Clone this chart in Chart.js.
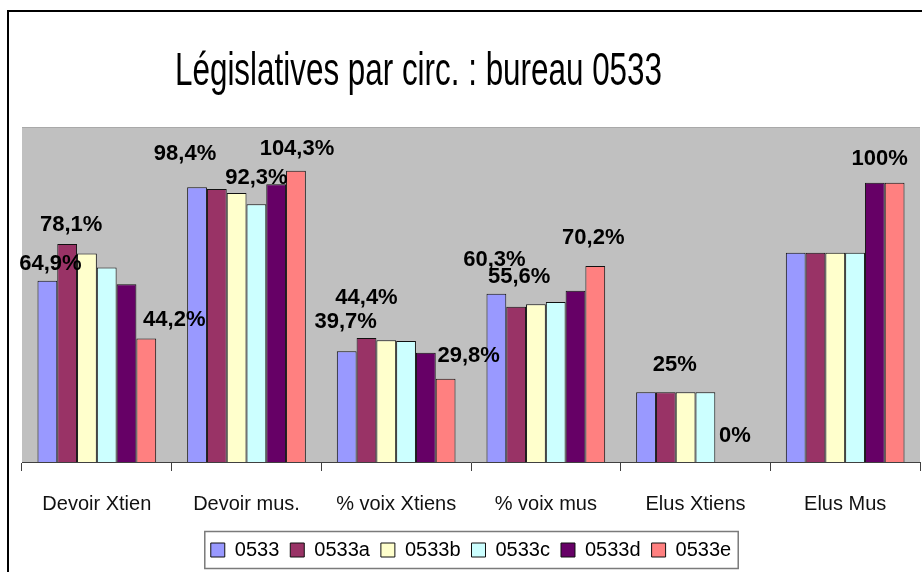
<!DOCTYPE html>
<html>
<head>
<meta charset="utf-8">
<script src="https://cdn.jsdelivr.net/npm/chart.js@4.4.1/dist/chart.umd.min.js"></script>
<style>
  html, body { margin: 0; padding: 0; background: #ffffff; }
  #wrap { width: 922px; height: 572px; position: relative; }
</style>
</head>
<body>
<div id="wrap"><canvas id="c" width="922" height="572"></canvas></div>
<script>
// ---- data ----
const titleText = 'Législatives par circ. : bureau 0533';
const categories = ['Devoir Xtien', 'Devoir mus.', '% voix Xtiens', '% voix mus', 'Elus Xtiens', 'Elus Mus'];
const seriesNames = ['0533', '0533a', '0533b', '0533c', '0533d', '0533e'];
const s0533  = [64.9, 98.4, 39.7, 60.3, 25, 75];
const s0533a = [78.1, 97.8, 44.4, 55.6, 25, 75];
const s0533b = [74.7, 96.4, 43.6, 56.5, 25, 75];
const s0533c = [69.7, 92.3, 43.3, 57.3, 25, 75];
const s0533d = [63.7, 99.5, 39.1, 61.3, 0, 100];
const s0533e = [44.2, 104.3, 29.8, 70.2, 0, 100];
const yMin = 0, yMax = 120;

// which bars carry a value label (series index, category index) + label nudges
const labelled = [
  [0,0],[1,0],[5,0],
  [0,1],[3,1],[5,1],
  [0,2],[1,2],[5,2],
  [0,3],[1,3],[5,3],
  [1,4],[5,4],
  [5,5]
];
const labelNudge = [
  [3,17],[4,19],[28,19],
  [-12,33],[0,26],[1,22],
  [-1,29],[0,40],[23,23],
  [-2,34],[3,30],[-2,28],
  [9,27],[-10,26],
  [-15,24]
];

// ---- styles ----
const colors = ['#9999FF', '#993366', '#FFFFCC', '#CCFFFF', '#660066', '#FF8080'];
const FONT = "'Liberation Sans', Arial, Helvetica, sans-serif";
const seriesValues = [s0533, s0533a, s0533b, s0533c, s0533d, s0533e];

function fmt(v) {
  return String(v).replace('.', ',') + '%';
}

const framePlugin = {
  id: 'frame',
  beforeDraw(chart) {
    const ctx = chart.ctx, a = chart.chartArea;
    ctx.save();
    ctx.fillStyle = '#ffffff';
    ctx.fillRect(0, 0, chart.width, chart.height);
    // plot background
    ctx.fillStyle = '#C0C0C0';
    ctx.fillRect(a.left, a.top, a.right - a.left, a.bottom - a.top);
    ctx.strokeStyle = '#a9a9a9';
    ctx.lineWidth = 1;
    ctx.beginPath();
    ctx.moveTo(a.left, a.top + 0.5);
    ctx.lineTo(a.right, a.top + 0.5);
    ctx.stroke();
    // outer black frame (left and top visible)
    ctx.strokeStyle = '#000000';
    ctx.lineWidth = 2;
    ctx.beginPath();
    ctx.moveTo(8, chart.height);
    ctx.lineTo(8, 11);
    ctx.lineTo(chart.width, 11);
    ctx.stroke();
    // title (condensed)
    ctx.fillStyle = '#000000';
    ctx.font = '46px ' + FONT;
    ctx.textBaseline = 'alphabetic';
    ctx.textAlign = 'left';
    const w = ctx.measureText(titleText).width;
    const targetW = 487;
    const sx = targetW / w;
    ctx.translate(418.5 - targetW / 2, 85);
    ctx.scale(sx, 1);
    ctx.fillText(titleText, 0, 0);
    ctx.restore();
  },
  afterDraw(chart) {
    // legend border
    const lg = chart.legend;
    if (!lg || !lg.legendHitBoxes || !lg.legendHitBoxes.length) return;
    const hb = lg.legendHitBoxes;
    const first = hb[0], last = hb[hb.length - 1];
    const ctx = chart.ctx;
    ctx.save();
    ctx.strokeStyle = '#7a7a7a';
    ctx.lineWidth = 1.5;
    const x0 = first.left - 6, x1 = last.left + last.width + 7;
    const y0 = lg.top + 2.5, y1 = lg.top + 39.5;
    ctx.strokeRect(x0, y0, x1 - x0, y1 - y0);
    ctx.restore();
  }
};

const labelPlugin = {
  id: 'valueLabels',
  afterDatasetsDraw(chart) {
    const ctx = chart.ctx;
    ctx.save();
    ctx.fillStyle = '#000000';
    ctx.font = 'bold 22px ' + FONT;
    ctx.textAlign = 'center';
    ctx.textBaseline = 'middle';
    labelled.forEach(([ds, cat], i) => {
      const el = chart.getDatasetMeta(ds).data[cat];
      const v = seriesValues[ds][cat];
      const [dx, dy] = labelNudge[i];
      ctx.fillText(fmt(v), el.x + dx, el.y - dy);
    });
    ctx.restore();
  }
};

new Chart(document.getElementById('c'), {
  type: 'bar',
  data: {
    labels: categories,
    datasets: seriesNames.map((name, i) => ({
      label: name,
      data: seriesValues[i],
      backgroundColor: colors[i],
      borderColor: '#111111',
      borderWidth: 1,
      borderSkipped: 'bottom',
      categoryPercentage: 0.793,
      barPercentage: 1.0
    }))
  },
  options: {
    responsive: false,
    animation: false,
    devicePixelRatio: 1,
    layout: { padding: { left: 22, right: 2, top: 127, bottom: 2 } },
    plugins: {
      title: { display: false },
      tooltip: { enabled: false },
      legend: {
        display: true,
        position: 'bottom',
        labels: {
          color: '#000000',
          font: { family: FONT, size: 20 },
          boxWidth: 14,
          boxHeight: 14,
          padding: 11
        }
      }
    },
    scales: {
      x: {
        grid: {
          offset: true,
          drawOnChartArea: false,
          drawTicks: true,
          tickLength: 9,
          color: '#404040'
        },
        border: { display: true, color: '#404040', width: 1 },
        ticks: {
          color: '#111111',
          font: { family: FONT, size: 20 },
          padding: 21,
          maxRotation: 0,
          autoSkip: false
        },
        afterFit(scale) { scale.height -= 8; }
      },
      y: {
        display: false,
        min: yMin,
        max: yMax
      }
    }
  },
  plugins: [framePlugin, labelPlugin]
});
</script>
</body>
</html>
